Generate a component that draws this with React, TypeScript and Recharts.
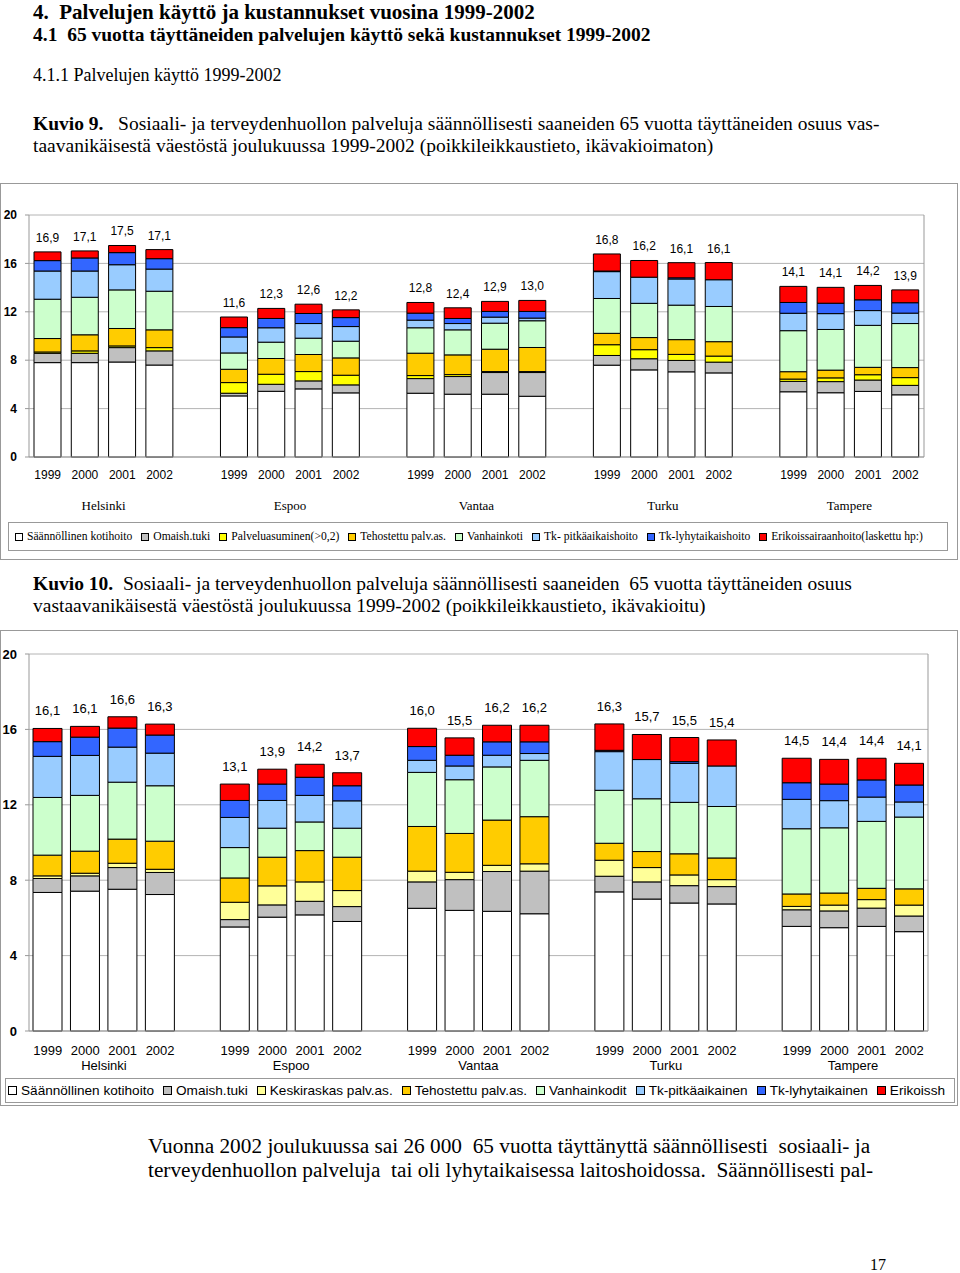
import React from "react";
import { Bar, BarChart, CartesianGrid, LabelList, XAxis, YAxis } from "recharts";

const cities = ["Helsinki", "Espoo", "Vantaa", "Turku", "Tampere"];
const years = ["1999", "2000", "2001", "2002"];
const yTicks = [0, 4, 8, 12, 16, 20];

// Kuvio 9 (ikävakioimaton), order: Helsinki 1999-2002, Espoo, Vantaa, Turku, Tampere
const kotihoito9 = [7.8, 7.8, 7.85, 7.6, 5.05, 5.43, 5.63, 5.3, 5.27, 5.19, 5.19, 5.02, 7.59, 7.2, 7.04, 6.95, 5.39, 5.31, 5.42, 5.14];
const omaish9 = [0.77, 0.77, 1.19, 1.17, 0.22, 0.58, 0.66, 0.66, 1.21, 1.46, 1.79, 1.96, 0.8, 0.92, 0.94, 0.89, 0.86, 0.92, 0.94, 0.78];
const palveluas9 = [0.11, 0.2, 0.14, 0.27, 0.88, 0.83, 0.77, 0.8, 0.25, 0.16, 0.08, 0.08, 0.89, 0.75, 0.5, 0.5, 0.19, 0.31, 0.44, 0.64];
const tehostettu9 = [1.11, 1.33, 1.44, 1.47, 1.1, 1.3, 1.41, 1.43, 1.85, 1.63, 1.85, 1.99, 0.94, 1.0, 1.22, 1.19, 0.61, 0.64, 0.61, 0.83];
const vanhainkoti9 = [3.25, 3.1, 3.19, 3.19, 1.35, 1.35, 1.35, 1.38, 2.1, 2.07, 2.15, 2.21, 2.88, 2.83, 2.85, 2.91, 3.39, 3.36, 3.47, 3.64];
const tkPitka9 = [2.33, 2.17, 2.08, 1.83, 1.32, 1.19, 1.21, 1.21, 0.63, 0.52, 0.5, 0.22, 2.22, 2.16, 2.16, 2.21, 1.44, 1.31, 1.22, 0.86];
const tkLyhyt9 = [0.86, 1.08, 1.0, 0.86, 0.77, 0.77, 0.83, 0.74, 0.58, 0.42, 0.47, 0.55, 0.05, 0, 0.1, 0, 0.89, 0.86, 0.89, 0.86];
const erikois9 = [0.72, 0.58, 0.59, 0.75, 0.88, 0.83, 0.77, 0.64, 0.88, 0.88, 0.83, 0.91, 1.41, 1.38, 1.25, 1.42, 1.33, 1.31, 1.19, 1.06];
const totals9 = [16.9, 17.1, 17.5, 17.1, 11.6, 12.3, 12.6, 12.2, 12.8, 12.4, 12.9, 13.0, 16.8, 16.2, 16.1, 16.1, 14.1, 14.1, 14.2, 13.9];

// Kuvio 10 (ikävakioitu)
const kotihoito10 = [7.35, 7.42, 7.52, 7.24, 5.52, 6.04, 6.16, 5.81, 6.51, 6.4, 6.35, 6.22, 7.38, 7.0, 6.79, 6.74, 5.55, 5.48, 5.55, 5.27];
const omaish10 = [0.74, 0.81, 1.15, 1.17, 0.39, 0.65, 0.72, 0.79, 1.4, 1.63, 2.11, 2.26, 0.83, 0.91, 0.92, 0.92, 0.88, 0.89, 0.97, 0.83];
const keskiraskas10 = [0.14, 0.14, 0.23, 0.17, 0.92, 1.01, 1.03, 0.85, 0.57, 0.39, 0.33, 0.39, 0.85, 0.76, 0.57, 0.37, 0.18, 0.31, 0.45, 0.58];
const tehostettu10 = [1.1, 1.17, 1.28, 1.49, 1.29, 1.52, 1.66, 1.77, 2.37, 2.06, 2.4, 2.5, 0.9, 0.85, 1.12, 1.15, 0.66, 0.64, 0.6, 0.86];
const vanhainkodit10 = [3.06, 2.96, 3.02, 2.94, 1.61, 1.54, 1.52, 1.54, 2.87, 2.85, 2.82, 2.99, 2.81, 2.8, 2.73, 2.73, 3.46, 3.46, 3.55, 3.81];
const tkPitka10 = [2.18, 2.12, 1.86, 1.73, 1.6, 1.47, 1.41, 1.45, 0.64, 0.73, 0.62, 0.36, 2.05, 2.08, 2.07, 2.15, 1.56, 1.44, 1.29, 0.8];
const tkLyhyt10 = [0.78, 0.97, 1.01, 0.96, 0.9, 0.87, 0.96, 0.8, 0.73, 0.57, 0.71, 0.62, 0.07, 0, 0.09, 0, 0.88, 0.88, 0.91, 0.9];
const erikois10 = [0.7, 0.57, 0.6, 0.58, 0.87, 0.79, 0.69, 0.69, 0.97, 0.92, 0.88, 0.88, 1.4, 1.33, 1.28, 1.38, 1.3, 1.31, 1.15, 1.15];
const totals10 = [16.1, 16.1, 16.6, 16.3, 13.1, 13.9, 14.2, 13.7, 16.0, 15.5, 16.2, 16.2, 16.3, 15.7, 15.5, 15.4, 14.5, 14.4, 14.4, 14.1];

const names9 = ["Säännöllinen kotihoito", "Omaish.tuki", "Palveluasuminen(>0,2)", "Tehostettu palv.as.", "Vanhainkoti", "Tk- pitkäaikaishoito", "Tk-lyhytaikaishoito", "Erikoissairaanhoito(laskettu hp:)"];
const names10 = ["Säännöllinen kotihoito", "Omaish.tuki", "Keskiraskas palv.as.", "Tehostettu palv.as.", "Vanhainkodit", "Tk-pitkäaikainen", "Tk-lyhytaikainen", "Erikoissh"];
const colors9 = ["#FFFFFF", "#C0C0C0", "#FFFF00", "#FFCC00", "#CCFFCC", "#99CCFF", "#3366FF", "#FF0000"];
const colors10 = ["#FFFFFF", "#C0C0C0", "#FFFF99", "#FFCC00", "#CCFFCC", "#99CCFF", "#3366FF", "#FF0000"];

const SANS = "'Liberation Sans', Arial, sans-serif";
const SERIF = "'Liberation Serif', 'Times New Roman', serif";

type Row = { key: string; year: string; city: string; total?: number; [k: string]: any };

function buildRows(series: number[][], totals: number[]): Row[] {
  const rows: Row[] = [];
  cities.forEach((city, c) => {
    years.forEach((year, y) => {
      const i = c * 4 + y;
      const row: Row = { key: `${city}-${year}`, year, city: y === 1 ? city : "", total: totals[i] };
      series.forEach((s, k) => (row[`s${k}`] = s[i]));
      rows.push(row);
    });
    if (c < cities.length - 1) rows.push({ key: `gap-${c}`, year: "", city: "" });
  });
  return rows;
}

const rows9 = buildRows([kotihoito9, omaish9, palveluas9, tehostettu9, vanhainkoti9, tkPitka9, tkLyhyt9, erikois9], totals9);
const rows10 = buildRows([kotihoito10, omaish10, keskiraskas10, tehostettu10, vanhainkodit10, tkPitka10, tkLyhyt10, erikois10], totals10);

type ChartProps = {
  rows: Row[];
  colors: string[];
  width: number;
  height: number;
  top: number;
  right: number;
  axisHeight: number;
  barSize: number;
  fontSize: number;
  yearDy: number;
  cityDy: number;
  cityFont: string;
  cityDx: number;
  labelDy: number;
};

function StackChart(p: ChartProps) {
  const tick = (props: any) => {
    const row = p.rows[props.index];
    if (!row) return <g />;
    return (
      <g>
        <text x={props.x} y={props.y + p.yearDy} textAnchor="middle" dominantBaseline="central" fontFamily={SANS} fontSize={p.fontSize} fill="#000">
          {row.year}
        </text>
        {row.city && (
          <text x={props.x + p.cityDx} y={props.y + p.cityDy} textAnchor="middle" dominantBaseline="central" fontFamily={p.cityFont} fontSize={13} fill="#000">
            {row.city}
          </text>
        )}
      </g>
    );
  };
  const totalLabel = (props: any) => {
    if (props.value == null) return null;
    return (
      <text x={props.x + props.width / 2} y={props.y - p.labelDy} textAnchor="middle" fontFamily={SANS} fontSize={p.fontSize} fill="#000">
        {Number(props.value).toFixed(1).replace(".", ",")}
      </text>
    );
  };
  return (
    <BarChart width={p.width} height={p.height} data={p.rows} margin={{ top: p.top, right: p.right, left: 0, bottom: 0 }} barSize={p.barSize}>
      <CartesianGrid vertical={false} stroke="#b4b4b4" />
      <XAxis dataKey="key" interval={0} tick={tick} tickLine={false} tickSize={0} tickMargin={0} height={p.axisHeight} axisLine={{ stroke: "#999" }} />
      <YAxis
        domain={[0, 20]}
        ticks={yTicks}
        interval={0}
        width={29}
        tickSize={4}
        tickMargin={8}
        axisLine={{ stroke: "#999" }}
        tickLine={{ stroke: "#999" }}
        tick={{ fontSize: p.fontSize, fontWeight: 700, fill: "#000", fontFamily: SANS }}
      />
      <YAxis yAxisId="border" orientation="right" domain={[0, 20]} width={1} tick={false} tickLine={false} axisLine={{ stroke: "#999" }} />
      {p.colors.map((c, k) => (
        <Bar key={k} dataKey={`s${k}`} stackId="a" fill={c} stroke="#000" strokeWidth={1} isAnimationActive={false}>
          {k === p.colors.length - 1 && <LabelList dataKey="total" content={totalLabel} />}
        </Bar>
      ))}
    </BarChart>
  );
}

function Legend({ names, colors, font, size, marker, gap, style }: { names: string[]; colors: string[]; font: string; size: number; marker: number; gap: number; style: React.CSSProperties }) {
  return (
    <div style={{ position: "absolute", border: "1px solid #999", display: "flex", alignItems: "center", overflow: "hidden", whiteSpace: "nowrap", fontFamily: font, fontSize: size, boxSizing: "border-box", ...style }}>
      {names.map((n, i) => (
        <span key={n} style={{ display: "inline-flex", alignItems: "center", marginRight: i === names.length - 1 ? 0 : gap, flexShrink: 0 }}>
          <span style={{ width: marker, height: marker, background: colors[i], border: "1px solid #000", marginRight: 4, boxSizing: "border-box", display: "inline-block" }} />
          {n}
        </span>
      ))}
    </div>
  );
}

function Txt({ top, left, size, bold, children }: { top: number; left: number; size: number; bold?: boolean; children: React.ReactNode }) {
  const lh = Math.round(size * 1.1);
  return (
    <div style={{ position: "absolute", top: top - lh / 2, left, fontFamily: SERIF, fontSize: size, lineHeight: `${lh}px`, fontWeight: bold ? 700 : 400, whiteSpace: "pre" }}>
      {children}
    </div>
  );
}

export default function App() {
  return (
    <div style={{ position: "relative", width: 960, height: 1273, background: "#fff", overflow: "hidden" }}>
      <style>{"body{margin:0}"}</style>
      <Txt top={12} left={33} size={21} bold>{"4.  Palvelujen käyttö ja kustannukset vuosina 1999-2002"}</Txt>
      <Txt top={34} left={33} size={19.5} bold>{"4.1  65 vuotta täyttäneiden palvelujen käyttö sekä kustannukset 1999-2002"}</Txt>
      <Txt top={75} left={33} size={18}>{"4.1.1 Palvelujen käyttö 1999-2002"}</Txt>
      <Txt top={123} left={33} size={19.5}>
        <b>{"Kuvio 9."}</b>{"   Sosiaali- ja terveydenhuollon palveluja säännöllisesti saaneiden 65 vuotta täyttäneiden osuus vas-"}
      </Txt>
      <Txt top={145} left={33} size={19.5}>{"taavanikäisestä väestöstä joulukuussa 1999-2002 (poikkileikkaustieto, ikävakioimaton)"}</Txt>

      <div style={{ position: "absolute", left: 0, top: 183, width: 958, height: 377, border: "1px solid #999", boxSizing: "border-box" }} />
      <div style={{ position: "absolute", left: 0, top: 183 }}>
        <StackChart rows={rows9} colors={colors9} width={958} height={334} top={32} right={33} axisHeight={60} barSize={27} fontSize={12} yearDy={18} cityDy={48} cityFont={SERIF} cityDx={18.6} labelDy={10} />
      </div>
      <Legend names={names9} colors={colors9} font={SERIF} size={11.6} marker={8} gap={9} style={{ left: 8, top: 522, width: 940, height: 29, paddingLeft: 6 }} />

      <Txt top={583} left={33} size={19.5}>
        <b>{"Kuvio 10."}</b>{"  Sosiaali- ja terveydenhuollon palveluja säännöllisesti saaneiden  65 vuotta täyttäneiden osuus"}
      </Txt>
      <Txt top={605} left={33} size={19.5}>{"vastaavanikäisestä väestöstä joulukuussa 1999-2002 (poikkileikkaustieto, ikävakioitu)"}</Txt>

      <div style={{ position: "absolute", left: 0, top: 630, width: 958, height: 476, border: "1px solid #999", boxSizing: "border-box" }} />
      <div style={{ position: "absolute", left: 0, top: 630 }}>
        <StackChart rows={rows10} colors={colors10} width={958} height={446} top={24} right={29} axisHeight={45} barSize={29} fontSize={13} yearDy={19} cityDy={34} cityFont={SANS} cityDx={18.7} labelDy={13} />
      </div>
      <Legend names={names10} colors={colors10} font={SANS} size={13.6} marker={9} gap={9} style={{ left: 5, top: 1078, width: 950, height: 25, paddingLeft: 2 }} />

      <Txt top={1146} left={148} size={21.3}>{"Vuonna 2002 joulukuussa sai 26 000  65 vuotta täyttänyttä säännöllisesti  sosiaali- ja"}</Txt>
      <Txt top={1170} left={148} size={21.3}>{"terveydenhuollon palveluja  tai oli lyhytaikaisessa laitoshoidossa.  Säännöllisesti pal-"}</Txt>
      <Txt top={1265} left={870} size={16}>{"17"}</Txt>
    </div>
  );
}
